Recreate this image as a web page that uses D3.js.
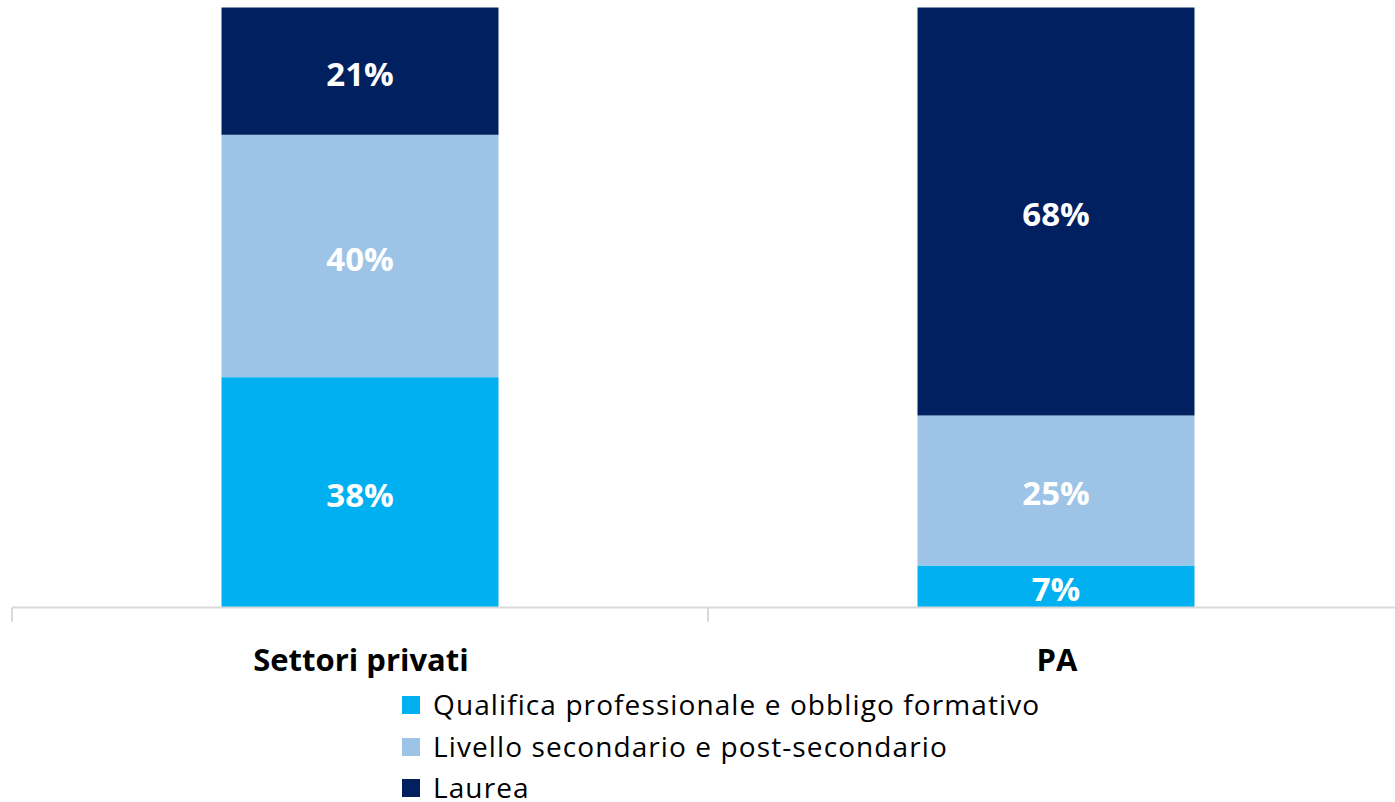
<!DOCTYPE html>
<html><head><meta charset="utf-8">
<script src="https://cdn.jsdelivr.net/npm/d3@7"></script>
<style>html,body{margin:0;padding:0;background:#fff;}svg{display:block;}</style>
</head><body>
<svg id="chart" width="1395" height="802"></svg>
<script>
const categories = ["Settori privati", "PA"];
const seriesNames = ["Qualifica professionale e obbligo formativo", "Livello secondario e post-secondario", "Laurea"];
const qualifica = [38, 7];
const secondario = [40, 25];
const laurea = [21, 68];
const colors = ["#00B0F0", "#9DC3E6", "#002060"];

const rows = categories.map((c, i) => ({cat: c, s0: qualifica[i], s1: secondario[i], s2: laurea[i]}));
const keys = ["s0", "s1", "s2"];
const stack = d3.stack().keys(keys).offset(d3.stackOffsetExpand);
const layers = stack(rows);

const svg = d3.select("#chart");
const font = "'Open Sans', sans-serif";
const x = d3.scaleBand().domain(categories).range([12, 1404]).paddingInner(0).paddingOuter(0);
const y = d3.scaleLinear().domain([0, 1]).range([607.5, 7.5]);
const barW = x.bandwidth() * 0.398;

const g = svg.append("g");
layers.forEach((layer, li) => {
  const lg = g.append("g");
  lg.selectAll("rect").data(layer).enter().append("rect")
    .attr("x", d => x(d.data.cat) + (x.bandwidth() - barW) / 2)
    .attr("width", barW)
    .attr("y", d => y(d[1]))
    .attr("height", d => y(d[0]) - y(d[1]))
    .attr("fill", colors[li]);
  lg.selectAll("text").data(layer).enter().append("text")
    .attr("x", d => x(d.data.cat) + x.bandwidth() / 2)
    .attr("y", d => (y(d[0]) + y(d[1])) / 2 + 3)
    .attr("dy", "0.36em")
    .attr("text-anchor", "middle")
    .attr("fill", "#fff")
    .attr("font-family", font)
    .attr("font-weight", "bold")
    .attr("font-size", 33)
    .text(d => d.data[layer.key] + "%");
});

// axis
const ax = svg.append("g").attr("transform", "translate(0,607.5)");
ax.append("line").attr("x1", 12).attr("x2", 1404).attr("stroke", "#d9d9d9").attr("stroke-width", 2);
const tickPos = [12, x.step() + 12, 2 * x.step() + 12];
ax.selectAll("line.tick").data(tickPos).enter().append("line").attr("class", "tick")
  .attr("x1", d => d).attr("x2", d => d).attr("y1", 0).attr("y2", 14)
  .attr("stroke", "#d9d9d9").attr("stroke-width", 2);
ax.selectAll("text.cat").data(categories).enter().append("text").attr("class", "cat")
  .attr("x", d => x(d) + x.bandwidth() / 2 + 1)
  .attr("y", 63)
  .attr("text-anchor", "middle")
  .attr("font-family", font).attr("font-weight", "bold").attr("font-size", 31)
  .attr("fill", "#000")
  .text(d => d);

// legend
const leg = svg.append("g").attr("transform", "translate(402,0)");
const legY = [705, 747, 788];
seriesNames.forEach((n, i) => {
  leg.append("rect").attr("x", 0).attr("y", legY[i] - 9).attr("width", 18).attr("height", 18).attr("fill", colors[i]);
  leg.append("text").attr("x", 31).attr("y", legY[i]).attr("dy", "0.36em")
    .attr("font-family", font).attr("font-size", 28).attr("letter-spacing", 1.1)
    .attr("fill", "#000").text(n);
});
</script>
</body></html>
